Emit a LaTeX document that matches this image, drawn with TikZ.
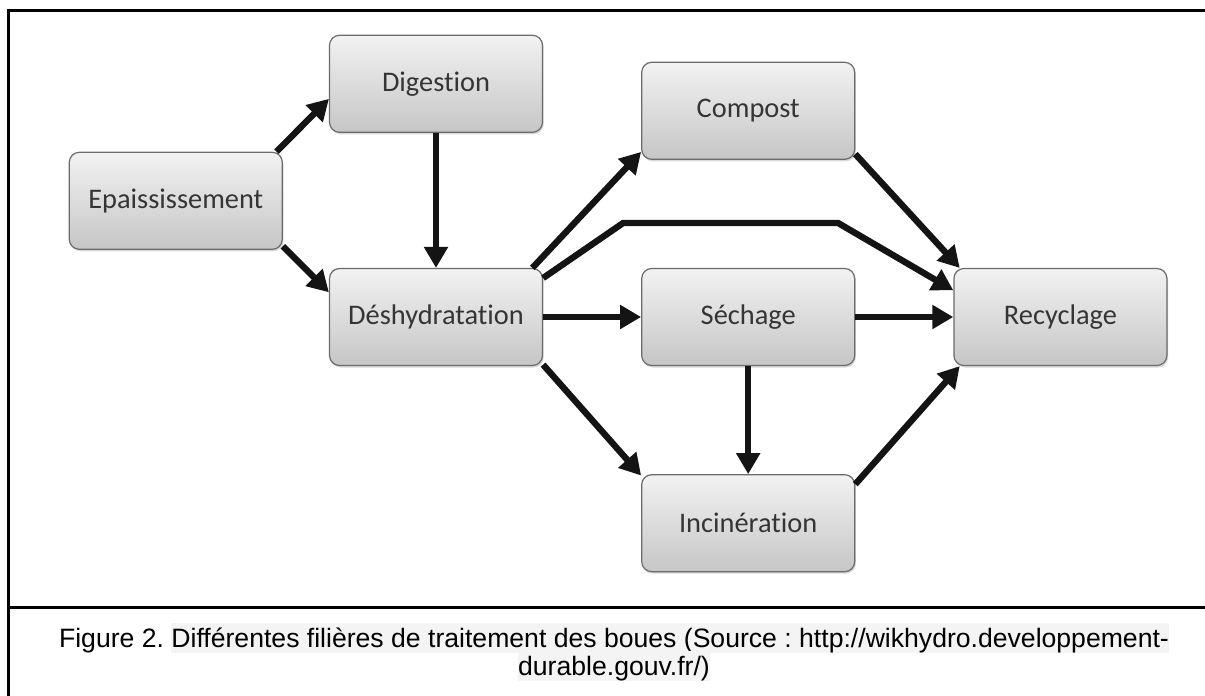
\documentclass[tikz,border=0pt]{standalone}
\usepackage{fontspec}
\newfontfamily\boxfont[Ligatures=NoCommon]{Carlito}
\newfontfamily\capfont{Liberation Sans}
\usepackage{tikz}
\usetikzlibrary{arrows.meta, positioning, shadows}
\definecolor{boxline}{HTML}{6B6B6B}
\definecolor{boxtop}{HTML}{F2F2F2}
\definecolor{boxbot}{HTML}{C6C6C6}
\definecolor{boxtext}{HTML}{353535}
\definecolor{capgray}{HTML}{F4F4F4}
\newcommand{\hlcap}[1]{{\setlength{\fboxsep}{0pt}\colorbox{capgray}{\rule[-3pt]{0pt}{15pt}#1}}}
\frenchspacing

\begin{document}
\begin{tikzpicture}[
        node distance=49pt,
        box/.style={draw=boxline, line width=0.6pt, rectangle, rounded corners=5pt, minimum width=106.5pt, minimum height=48.5pt, align=center, top color=boxtop, bottom color=boxbot, drop shadow={shadow xshift=0.6pt, shadow yshift=-1pt, opacity=0.3}, text=boxtext, font=\boxfont\fontsize{14.2}{17}\selectfont},
        arrow/.style={-{Triangle[length=10.5pt, width=11.5pt]}, line width=3.2pt, black!92},
        frame/.style={line width=1.5pt},
        captxt/.style={font=\capfont\fontsize{13.3}{15}\selectfont, inner sep=0pt, anchor=base}
    ]
        \useasboundingbox (0,0) rectangle (602.5pt,-348pt);
        % Frame of the figure
        \draw[frame] (4pt,-348pt) -- (4pt,-5pt) -- (602.5pt,-5pt);
        \draw[frame] (4pt,-303.5pt) -- (602.5pt,-303.5pt);

        % Treatment steps
        \node[box] (desh) at (218pt,-158.5pt) {Déshydratation};
        \node[box, above=67.5pt of desh] (digest) {Digestion};
        \node[box, above left=9pt and 23pt of desh] (epais) {Epaississement};
        \node[box, right=of desh] (sechage) {Séchage};
        \node[box, right=of sechage] (recyc) {Recyclage};
        \node[box, above=54pt of sechage] (compost) {Compost};
        \node[box, below=54pt of sechage] (incin) {Incinération};

        % Flows
        \draw[arrow] (epais.26) -- (digest.188);
        \draw[arrow] (epais.-23) -- (desh.167);
        \draw[arrow] (digest) -- (desh);
        \draw[arrow] (desh.27) -- (compost.201);
        \draw[arrow] (desh.20) -- ++(40pt,27.5pt) -- ++(107.5pt,0) -- (recyc.166);
        \draw[arrow] (desh) -- (sechage);
        \draw[arrow] (desh.-24) -- (incin.156);
        \draw[arrow] (sechage) -- (recyc);
        \draw[arrow] (sechage) -- (incin);
        \draw[arrow] (compost.-22) -- (recyc.154);
        \draw[arrow] (incin.20) -- (recyc.206);

        % Caption
        \node[captxt] (cap1) at (307pt,-323.5pt) {Figure 2. \hlcap{Différentes filières de traitement des boues (Source : http://wikhydro.developpement-}};
        \node[captxt] (cap2) at (307pt,-337.5pt) {\hlcap{durable.gouv.fr/)}};
    \end{tikzpicture}
\end{document}
